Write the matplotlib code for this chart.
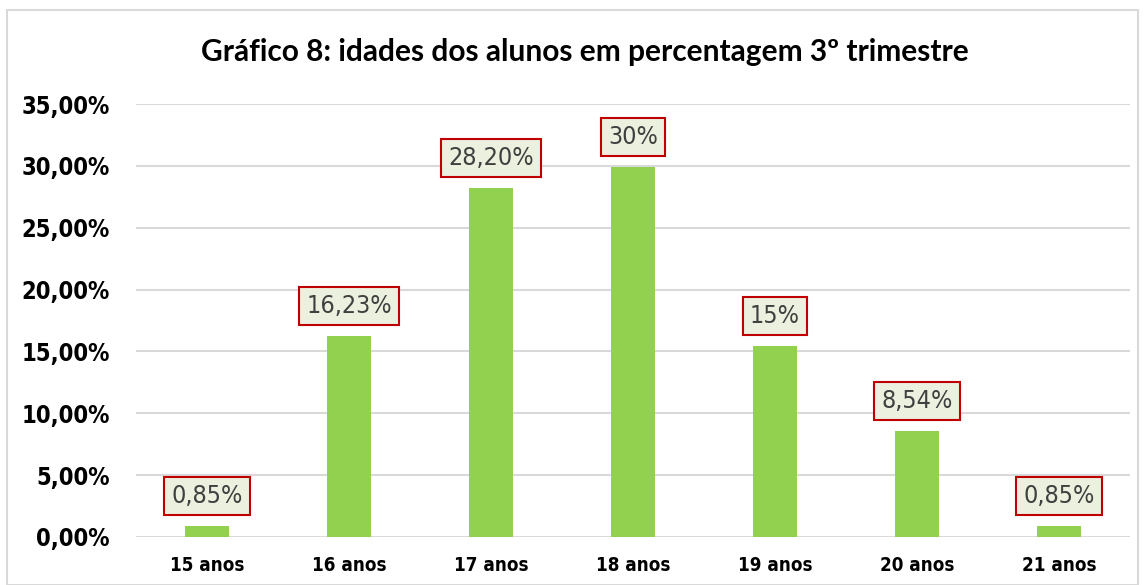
import matplotlib
matplotlib.use("Agg")
import matplotlib.pyplot as plt
from matplotlib.patches import Rectangle
from matplotlib.ticker import FuncFormatter

# data
categories = ['15 anos', '16 anos', '17 anos', '18 anos', '19 anos', '20 anos', '21 anos']
values = [0.85, 16.23, 28.20, 29.9, 15.4, 8.54, 0.85]
value_labels = ['0,85%', '16,23%', '28,20%', '30%', '15%', '8,54%', '0,85%']

BAR_GREEN = '#92D050'
BOX_FILL = '#EBF1DE'
BOX_EDGE = '#C00000'
GRID = '#D9D9D9'


def main():
    fig = plt.figure(figsize=(11.45, 5.85), dpi=100, facecolor='white')
    fig.patches.append(Rectangle((7 / 1145, 0), 1131 / 1145, 1 - 10 / 585,
                                 transform=fig.transFigure, fill=False,
                                 edgecolor='#D9D9D9', linewidth=1.5))

    ax = fig.add_axes([136 / 1145, 48 / 585, 994 / 1145, 433 / 585])
    x = list(range(len(categories)))
    ax.bar(x, values, width=0.31, color=BAR_GREEN, zorder=3)
    ax.set_xlim(-0.5, len(categories) - 0.5)
    ax.set_ylim(0, 35)
    ax.set_yticks(range(0, 36, 5))
    ax.yaxis.set_major_formatter(FuncFormatter(lambda v, p: f'{v:.2f}%'.replace('.', ',')))
    ax.set_xticks(x)
    ax.set_xticklabels(categories)
    ax.grid(axis='y', color=GRID, linewidth=1.5, zorder=0)
    for s in ax.spines.values():
        s.set_visible(False)
    ax.tick_params(length=0)
    ax.tick_params(axis='y', pad=19)
    ax.tick_params(axis='x', pad=14)
    for lab in ax.get_yticklabels() + ax.get_xticklabels():
        lab.set_family('DejaVu Sans')
        lab.set_fontstretch('condensed')
        lab.set_fontweight('bold')
    for lab in ax.get_yticklabels():
        lab.set_fontsize(17)
    for lab in ax.get_xticklabels():
        lab.set_fontsize(13.5)

    # data labels in framed boxes
    for xi, v, t in zip(x, values, value_labels):
        ax.annotate(t, (xi, v), xytext=(0, 22), textcoords='offset points',
                    ha='center', va='center', fontsize=18, color='#404040',
                    family='DejaVu Sans', fontstretch='condensed', zorder=5,
                    bbox=dict(boxstyle='square,pad=0.28', facecolor=BOX_FILL,
                              edgecolor=BOX_EDGE, linewidth=1.5))

    fig.text(585 / 1145, 1 - 52 / 585,
             'Gráfico 8: idades dos alunos em percentagem 3º trimestre',
             ha='center', va='center', fontsize=21.5, fontweight='bold',
             family=['Lato', 'DejaVu Sans'])

    fig.savefig('out.png', dpi=100, facecolor='white')


if __name__ == '__main__':
    main()
